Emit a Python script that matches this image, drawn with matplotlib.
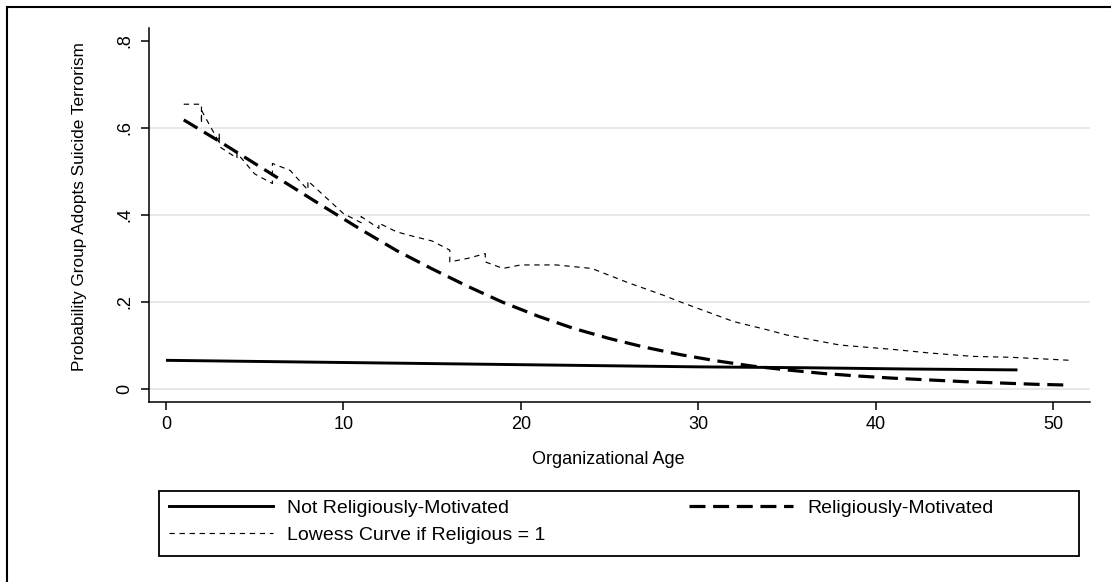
import matplotlib
matplotlib.use("Agg")
import matplotlib.pyplot as plt
from matplotlib.patches import Rectangle
from matplotlib.lines import Line2D

plt.rcParams['font.family'] = ['Liberation Sans', 'DejaVu Sans']

# ---- data ----
age_nonrel = [0, 6, 12, 18, 24, 30, 36, 42, 48]
p_nonrel = [0.066, 0.063, 0.060, 0.057, 0.054, 0.051, 0.049, 0.046, 0.044]

age_rel = [1, 3, 5, 7, 9, 11, 13, 15, 17, 19, 21, 23, 25, 27, 29, 31, 33, 35,
           37, 39, 41, 43, 45, 47, 49, 51]
p_rel = [0.618, 0.569, 0.518, 0.467, 0.416, 0.366, 0.318, 0.276, 0.236, 0.199,
         0.167, 0.139, 0.116, 0.096, 0.079, 0.065, 0.053, 0.044, 0.036, 0.030,
         0.025, 0.021, 0.017, 0.014, 0.011, 0.009]

age_lowess = [1, 2, 2, 2, 3, 3, 3, 4, 4, 5, 6, 6, 7, 8, 8, 10, 11, 11, 12, 12,
              13, 14, 15, 16, 16, 17, 18, 18, 19, 20, 22, 24, 26, 28, 29, 30,
              32, 34, 35, 38, 41, 43, 45.5, 47.6, 51]
p_lowess = [0.654, 0.654, 0.610, 0.640, 0.566, 0.587, 0.557, 0.530, 0.542,
            0.494, 0.472, 0.518, 0.502, 0.457, 0.478, 0.403, 0.382, 0.396,
            0.369, 0.381, 0.361, 0.350, 0.340, 0.319, 0.292, 0.300, 0.311,
            0.292, 0.277, 0.285, 0.285, 0.277, 0.245, 0.216, 0.200, 0.185,
            0.155, 0.135, 0.124, 0.101, 0.091, 0.083, 0.075, 0.073, 0.066]

yticks = [0, 0.2, 0.4, 0.6, 0.8]
ytick_labels = ['0', '.2', '.4', '.6', '.8']
xticks = [0, 10, 20, 30, 40, 50]
xtick_labels = ['0', '10', '20', '30', '40', '50']
grid_levels = [0, 0.2, 0.4, 0.6]

label_nonrel = 'Not Religiously-Motivated'
label_rel = 'Religiously-Motivated'
label_lowess = 'Lowess Curve if Religious = 1'

# ---- figure ----
W, H = 1111, 582
fig = plt.figure(figsize=(W / 100, H / 100), dpi=100)
fig.patch.set_facecolor('white')

# outer frame (only left and top are inside the image)
fig.patches.append(Rectangle((7 / W, -0.1), 1.2, (H - 7) / H + 0.1,
                             transform=fig.transFigure, fill=False,
                             edgecolor='black', linewidth=1.5, zorder=0))

left_px, right_px, top_px, bottom_px = 148.7, 1090, 28, 401.7
ax = fig.add_axes([left_px / W, 1 - bottom_px / H,
                   (right_px - left_px) / W, (bottom_px - top_px) / H])
ax.set_xlim(-0.975, 52.09)
ax.set_ylim(-0.029, 0.829)

for g in grid_levels:
    ax.axhline(g, color='#e6e6e6', linewidth=1.3, zorder=1)

ax.plot(age_nonrel, p_nonrel, color='black', linewidth=2.1,
        solid_capstyle='butt', zorder=3)
l_rel, = ax.plot(age_rel, p_rel, color='black', linewidth=2.3, zorder=3)
l_rel.set_dashes((5, 2.4))
l_low, = ax.plot(age_lowess, p_lowess, color='black', linewidth=0.85, zorder=3)
l_low.set_dashes((4.5, 4))

for s in ['top', 'right']:
    ax.spines[s].set_visible(False)
for s in ['left', 'bottom']:
    ax.spines[s].set_linewidth(1.1)

ax.set_yticks(yticks)
ax.set_yticklabels(ytick_labels, rotation=90, va='center')
ax.set_xticks(xticks)
ax.set_xticklabels(xtick_labels)
ax.tick_params(axis='both', direction='out', length=6, width=1.1,
               labelsize=13, color='black')
ax.tick_params(axis='y', pad=5)
ax.tick_params(axis='x', pad=4)

fig.text(608 / W, 1 - 459 / H, 'Organizational Age', ha='center',
         va='center', fontsize=13)
fig.text(80 / W, 1 - 207 / H, 'Probability Group Adopts Suicide Terrorism',
         ha='center', va='center', rotation=90, fontsize=12.4)

# legend frame
fig.patches.append(Rectangle((159 / W, 1 - 556 / H), (1079 - 159) / W,
                             (556 - 491) / H, transform=fig.transFigure,
                             fill=False, edgecolor='black', linewidth=1.3))

h_nonrel = Line2D([], [], color='black', linewidth=2.1)
h_rel = Line2D([], [], color='black', linewidth=2.3, dashes=(5, 2.4))
h_low = Line2D([], [], color='black', linewidth=0.85, dashes=(4.5, 4))
fig.legend([h_nonrel, h_low, h_rel], [label_nonrel, label_lowess, label_rel],
           ncol=2, loc='upper left', bbox_to_anchor=(169 / W, 1 - 499 / H),
           frameon=False, fontsize=14, handlelength=5.35, handletextpad=0.72,
           columnspacing=7.4, labelspacing=0.5, borderpad=0,
           borderaxespad=0)

fig.savefig('out.png', dpi=100, facecolor='white')
